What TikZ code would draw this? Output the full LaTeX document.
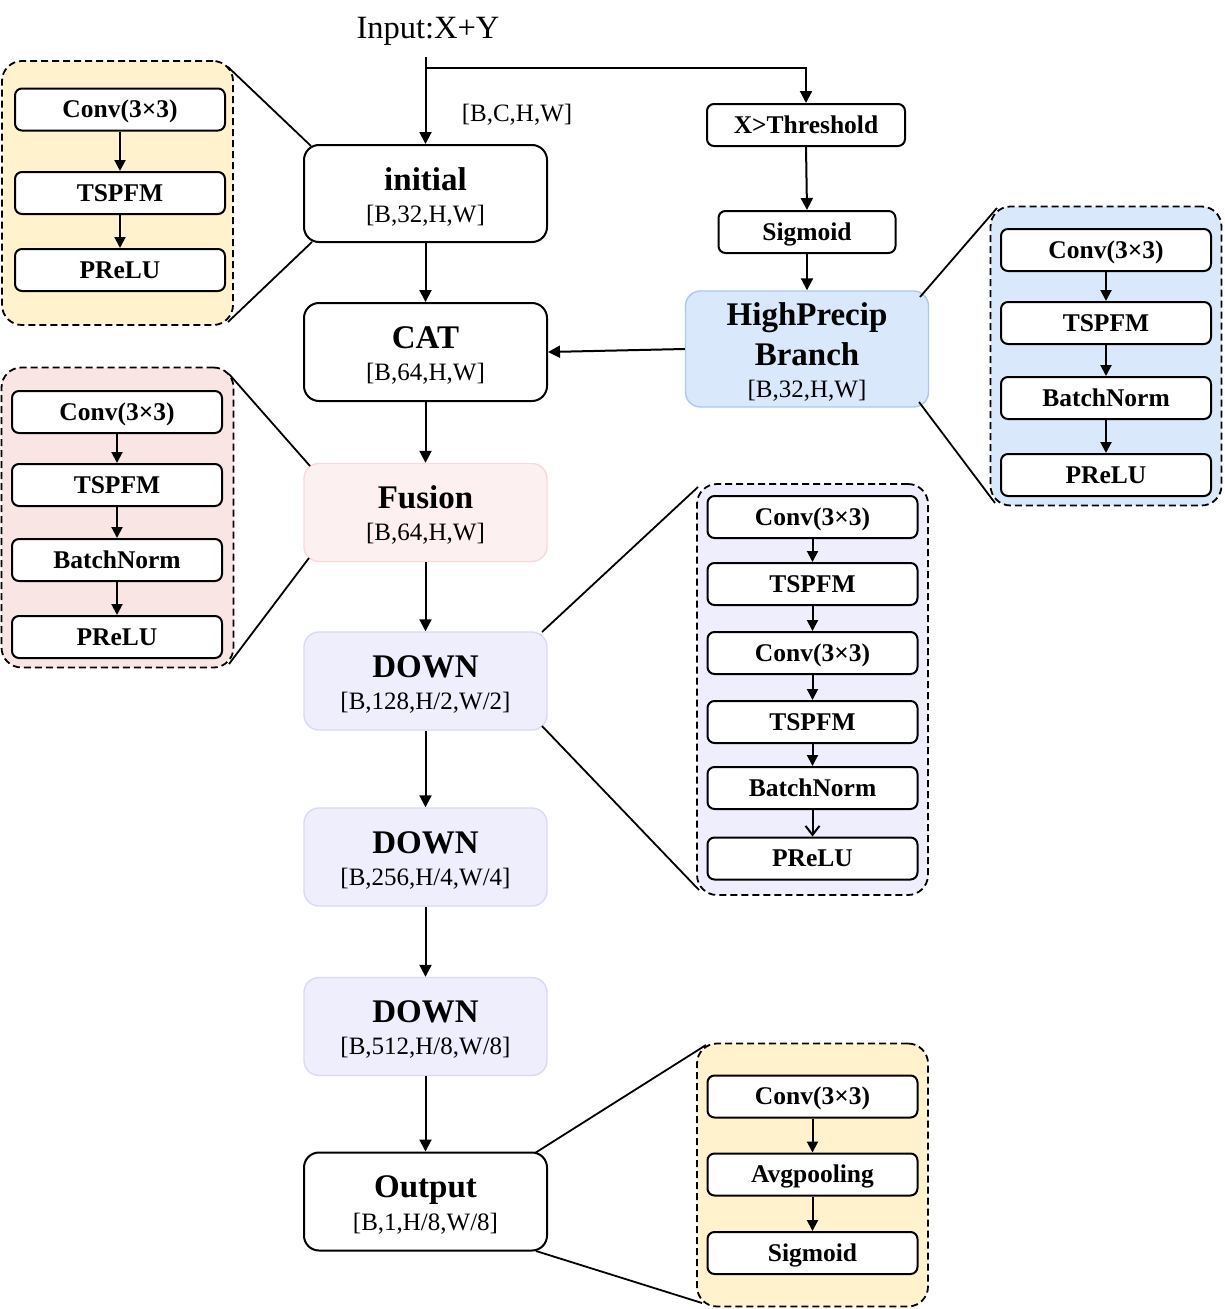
\documentclass[tikz,border=0pt]{standalone}
\usepackage{fontspec}
\setmainfont{Liberation Serif}
\usetikzlibrary{arrows.meta,calc}
\definecolor{yfill}{HTML}{FFF2CC}
\definecolor{pfill}{HTML}{F8E5E4}
\definecolor{fusfill}{HTML}{FCF1F0}
\definecolor{fusline}{HTML}{F6DAD8}
\definecolor{bfill}{HTML}{DAE8FC}
\definecolor{bline}{HTML}{A9C8F2}
\definecolor{lfill}{HTML}{EEEEFC}
\definecolor{lline}{HTML}{D9D9F7}
\tikzset{
 mainbox/.style={draw, line width=2pt, rounded corners=15pt, minimum width=243pt, inner sep=0pt},
 ttl/.style={anchor=base, font=\fontsize{33}{36}\selectfont\bfseries, inner sep=0pt},
 subtxt/.style={anchor=base, font=\fontsize{25}{28}\selectfont, inner sep=0pt},
 ibox/.style={draw, fill=white, line width=2pt, rounded corners=7pt, minimum width=210pt, minimum height=42pt, inner sep=0pt, text height=18pt, text depth=1.2pt, font=\fontsize{25.5}{28}\selectfont\bfseries},
 panel/.style={draw, dash pattern=on 7pt off 4pt, line width=1.8pt, rounded corners=20pt, inner sep=0pt},
 arr/.style={line width=2pt, -{Triangle[length=12pt,width=12pt]}},
 iarr/.style={line width=2pt, -{Triangle[length=11pt,width=11pt]}},
 oarr/.style={line width=2pt, -{Straight Barb[length=9pt,width=14pt]}},
 zl/.style={line width=1.8pt},
}
\begin{document}
\begin{tikzpicture}[x=1pt,y=-1pt]
\useasboundingbox (0,0) rectangle (1224,1309);

% ---------- panels ----------
\node[panel, fill=yfill, minimum width=231pt, minimum height=264pt] (pa) at (117.5,193) {};
\node[panel, fill=pfill, minimum width=232pt, minimum height=300pt] (pb) at (117.5,517.5) {};
\node[panel, fill=bfill, minimum width=231pt, minimum height=299pt] (pc) at (1106,356) {};
\node[panel, fill=lfill, minimum width=231pt, minimum height=411pt] (pd) at (812.5,689.5) {};
\node[panel, fill=yfill, minimum width=231pt, minimum height=263pt] (pe) at (812.5,1175) {};

% ---------- main column ----------
\node[mainbox, fill=white, minimum height=97pt] (init) at (425.5,193.5) {};
\node[ttl] (initt) at (425.5,190) {initial};
\node[subtxt] (inits) at (425.5,222) {[B,32,H,W]};

\node[mainbox, fill=white, minimum height=98pt] (cat) at (425.5,352) {};
\node[ttl] (catt) at (425.5,348) {CAT};
\node[subtxt] (cats) at (425.5,380) {[B,64,H,W]};

\node[mainbox, fill=fusfill, draw=fusline, line width=1.4pt, minimum height=98pt] (fus) at (425.5,512.5) {};
\node[ttl] (fust) at (425.5,508) {Fusion};
\node[subtxt] (fuss) at (425.5,540) {[B,64,H,W]};

\node[mainbox, fill=lfill, draw=lline, line width=1.4pt, minimum height=98pt] (dn1) at (425.5,681) {};
\node[ttl] (dn1t) at (425.5,677) {DOWN};
\node[subtxt] (dn1s) at (425.5,709) {[B,128,H/2,W/2]};

\node[mainbox, fill=lfill, draw=lline, line width=1.4pt, minimum height=98pt] (dn2) at (425.5,857) {};
\node[ttl] (dn2t) at (425.5,853) {DOWN};
\node[subtxt] (dn2s) at (425.5,885) {[B,256,H/4,W/4]};

\node[mainbox, fill=lfill, draw=lline, line width=1.4pt, minimum height=98pt] (dn3) at (425.5,1026.5) {};
\node[ttl] (dn3t) at (425.5,1022) {DOWN};
\node[subtxt] (dn3s) at (425.5,1054) {[B,512,H/8,W/8]};

\node[mainbox, fill=white, minimum height=98pt] (out) at (425.5,1201.5) {};
\node[ttl] (outt) at (425.5,1197) {Output};
\node[subtxt] (outs) at (425.5,1230) {[B,1,H/8,W/8]};

% ---------- input ----------
\node[anchor=base, font=\fontsize{32.5}{36}\selectfont, inner sep=0pt] (inp) at (428,38) {Input:X+Y};
\node[subtxt] (bchw) at (517,121) {[B,C,H,W]};
\coordinate (ins) at (425.5,57);
\coordinate (br) at (425.5,68);

% ---------- high precip branch ----------
\node[ibox, minimum width=198pt] (thr) at (806,125) {X>Threshold};
\node[ibox, minimum width=177pt] (sig) at (807,232) {Sigmoid};
\node[mainbox, fill=bfill, draw=bline, line width=1.4pt, minimum height=116pt] (hp) at (807,349) {};
\node[ttl] (hpt1) at (807,325) {HighPrecip};
\node[ttl] (hpt2) at (807,365) {Branch};
\node[subtxt] (hps) at (807,397) {[B,32,H,W]};

% ---------- main arrows ----------
\draw[arr] (ins) -- (init.north);
\draw[arr] (br) -| (thr.north);
\draw[arr] (thr.south) -- (sig.north);
\draw[arr] (sig.south) -- (hp.north);
\draw[arr] (hp.west) -- (cat.east);
\draw[arr] (init) -- (cat);
\draw[arr] (cat) -- (fus);
\draw[arr] (fus) -- (dn1);
\draw[arr] (dn1) -- (dn2);
\draw[arr] (dn2) -- (dn3);
\draw[arr] (dn3) -- (out);

% ---------- panel A (initial) ----------
\node[ibox] (a1) at (120,109.5) {Conv(3×3)};
\node[ibox] (a2) at (120,193) {TSPFM};
\node[ibox] (a3) at (120,270) {PReLU};
\draw[iarr] (a1) -- (a2);
\draw[iarr] (a2) -- (a3);

% ---------- panel B (fusion) ----------
\node[ibox] (b1) at (117,412) {Conv(3×3)};
\node[ibox] (b2) at (117,485) {TSPFM};
\node[ibox] (b3) at (117,560) {BatchNorm};
\node[ibox] (b4) at (117,637) {PReLU};
\draw[iarr] (b1) -- (b2);
\draw[iarr] (b2) -- (b3);
\draw[iarr] (b3) -- (b4);

% ---------- panel C (high precip) ----------
\node[ibox] (c1) at (1106,250) {Conv(3×3)};
\node[ibox] (c2) at (1106,323) {TSPFM};
\node[ibox] (c3) at (1106,398) {BatchNorm};
\node[ibox] (c4) at (1106,475) {PReLU};
\draw[iarr] (c1) -- (c2);
\draw[iarr] (c2) -- (c3);
\draw[iarr] (c3) -- (c4);

% ---------- panel D (down) ----------
\node[ibox] (d1) at (812.5,517) {Conv(3×3)};
\node[ibox] (d2) at (812.5,584) {TSPFM};
\node[ibox] (d3) at (812.5,653) {Conv(3×3)};
\node[ibox] (d4) at (812.5,722) {TSPFM};
\node[ibox] (d5) at (812.5,788) {BatchNorm};
\node[ibox] (d6) at (812.5,858.5) {PReLU};
\draw[iarr] (d1) -- (d2);
\draw[iarr] (d2) -- (d3);
\draw[iarr] (d3) -- (d4);
\draw[iarr] (d4) -- (d5);
\draw[oarr] (d5) -- (d6);

% ---------- panel E (output) ----------
\node[ibox] (e1) at (812.5,1096.5) {Conv(3×3)};
\node[ibox] (e2) at (812.5,1174.5) {Avgpooling};
\node[ibox] (e3) at (812.5,1253) {Sigmoid};
\draw[iarr] (e1) -- (e2);
\draw[iarr] (e2) -- (e3);

% ---------- zoom lines ----------
\coordinate (pa1) at (228,67);   \coordinate (ia1) at (311,146);
\coordinate (pa2) at (228,322);  \coordinate (ia2) at (312,242);
\coordinate (pb1) at (229,374);  \coordinate (fb1) at (310,466);
\coordinate (pb2) at (229,664);  \coordinate (fb2) at (309,558);
\coordinate (pc1) at (997,208);  \coordinate (hc1) at (920,297);
\coordinate (pc2) at (995,503);  \coordinate (hc2) at (919,402);
\coordinate (pd1) at (698,487);  \coordinate (dd1) at (542,632);
\coordinate (pd2) at (699,890);  \coordinate (dd2) at (542,726);
\coordinate (pe1) at (706,1045); \coordinate (oe1) at (535,1153);
\coordinate (pe2) at (702,1303); \coordinate (oe2) at (536,1251);
\draw[zl] (pa1) -- (ia1);
\draw[zl] (pa2) -- (ia2);
\draw[zl] (pb1) -- (fb1);
\draw[zl] (pb2) -- (fb2);
\draw[zl] (hc1) -- (pc1);
\draw[zl] (hc2) -- (pc2);
\draw[zl] (dd1) -- (pd1);
\draw[zl] (dd2) -- (pd2);
\draw[zl] (oe1) -- (pe1);
\draw[zl] (oe2) -- (pe2);
\end{tikzpicture}
\end{document}
